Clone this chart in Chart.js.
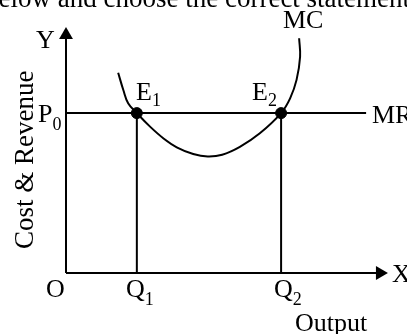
<!DOCTYPE html>
<html>
<head>
<meta charset="utf-8">
<script src="https://cdn.jsdelivr.net/npm/chart.js@4.4.0/dist/chart.umd.min.js"></script>
<style>
  html, body { margin: 0; padding: 0; background: #fff; }
  #wrap { width: 407px; height: 334px; position: relative; }
</style>
</head>
<body>
<div id="wrap"><canvas id="econChart"></canvas></div>
<script>
// ----------------- DATA -----------------
// MC curve (U shape, cutting MR twice)
const mcX = [1.62, 1.78, 1.93, 2.2, 2.61, 3.02, 3.44, 3.95, 4.4, 4.85, 5.4, 6.02, 6.68, 6.96, 7.16, 7.27, 7.24];
const mcY = [8.14, 7.44, 6.9, 6.5, 5.95, 5.48, 5.11, 4.84, 4.74, 4.81, 5.13, 5.68, 6.5, 7.1, 7.85, 8.79, 9.54];

// MR = P0 horizontal line
const priceP0 = 6.5;
const mrEndX = 9.32;

// equilibrium outputs
const outputQ = [2.2, 6.68];   // Q1, Q2

// axes (tips of the arrows sit at the top / right of the plot)
const axisMax = 10;
const arrowBase = [9.67, 9.75]; // y arrow centre, x arrow centre

const toPts = (xs, ys) => xs.map((x, i) => ({x: x, y: ys[i]}));

const lineStyle = {
    showLine: true,
    borderColor: "#000",
    borderWidth: 2,
    pointRadius: 0,
    fill: false,
    clip: false
};

// ----------------- LABELS PLUGIN -----------------
const FONT = "'Liberation Serif', 'DejaVu Serif', serif";

function subText(ctx, main, sub, x, y, size, subSize, drop){
    ctx.font = size + "px " + FONT;
    ctx.fillText(main, x, y);
    let w = ctx.measureText(main).width;
    ctx.font = subSize + "px " + FONT;
    ctx.fillText(sub, x + w, y + drop);
}

const labelPlugin = {
    id: "econLabels",
    afterDraw(chart){
        const ctx = chart.ctx;
        ctx.save();
        ctx.fillStyle = "#000";
        ctx.textAlign = "left";
        ctx.textBaseline = "alphabetic";

        // cut-off question text at the top
        ctx.font = "27px " + FONT;
        ctx.fillText("below and choose the correct statement.", -15, 7);

        ctx.font = "26px " + FONT;
        ctx.fillText("Y", 36, 48);
        ctx.fillText("MC", 283, 28);
        ctx.fillText("MR", 372, 123);
        ctx.fillText("O", 46, 297);
        ctx.fillText("X", 392, 282);
        ctx.fillText("Output", 295, 331);

        subText(ctx, "P", "0", 38, 122, 26, 18, 8);
        subText(ctx, "E", "1", 136, 100, 26, 18, 6);
        subText(ctx, "E", "2", 252, 100, 26, 18, 6);
        subText(ctx, "Q", "1", 126, 297, 26, 18, 8);
        subText(ctx, "Q", "2", 274, 297, 26, 18, 8);

        // vertical axis title
        ctx.translate(33, 249);
        ctx.rotate(-Math.PI / 2);
        ctx.font = "27px " + FONT;
        ctx.fillText("Cost & Revenue", 0, 0);
        ctx.restore();
    }
};

// ----------------- CHART -----------------
const ctxEcon = document.getElementById("econChart").getContext("2d");

const econChart = new Chart(ctxEcon, {
    type: "scatter",
    data: {
        datasets: [
            {
                label: "Equilibrium",
                data: outputQ.map(q => ({x: q, y: priceP0})),
                pointRadius: 5.5,
                pointBackgroundColor: "#000",
                pointBorderColor: "#000",
                showLine: false,
                clip: false
            },
            {
                label: "Y arrow",
                data: [{x: 0, y: arrowBase[0]}],
                pointStyle: "triangle",
                rotation: 0,
                pointRadius: 8,
                pointBackgroundColor: "#000",
                pointBorderColor: "#000",
                pointBorderWidth: 0,
                clip: false
            },
            {
                label: "X arrow",
                data: [{x: arrowBase[1], y: 0}],
                pointStyle: "triangle",
                rotation: 90,
                pointRadius: 8,
                pointBackgroundColor: "#000",
                pointBorderColor: "#000",
                pointBorderWidth: 0,
                clip: false
            },
            Object.assign({label: "MC", data: toPts(mcX, mcY), tension: 0.4}, lineStyle),
            Object.assign({label: "MR", data: [{x: 0, y: priceP0}, {x: mrEndX, y: priceP0}]}, lineStyle),
            Object.assign({label: "Q1", data: [{x: outputQ[0], y: 0}, {x: outputQ[0], y: priceP0}]}, lineStyle),
            Object.assign({label: "Q2", data: [{x: outputQ[1], y: 0}, {x: outputQ[1], y: priceP0}]}, lineStyle),
            Object.assign({label: "Y axis", data: [{x: 0, y: 0}, {x: 0, y: arrowBase[0]}]}, lineStyle),
            Object.assign({label: "X axis", data: [{x: 0, y: 0}, {x: arrowBase[1], y: 0}]}, lineStyle)
        ]
    },
    options: {
        responsive: true,
        maintainAspectRatio: false,
        animation: false,
        layout: {
            padding: {left: 66, right: 19, top: 27, bottom: 61}
        },
        plugins: {
            legend: {display: false},
            tooltip: {enabled: false}
        },
        scales: {
            x: {type: "linear", min: 0, max: axisMax, display: false},
            y: {type: "linear", min: 0, max: axisMax, display: false}
        }
    },
    plugins: [labelPlugin]
});
</script>
</body>
</html>
